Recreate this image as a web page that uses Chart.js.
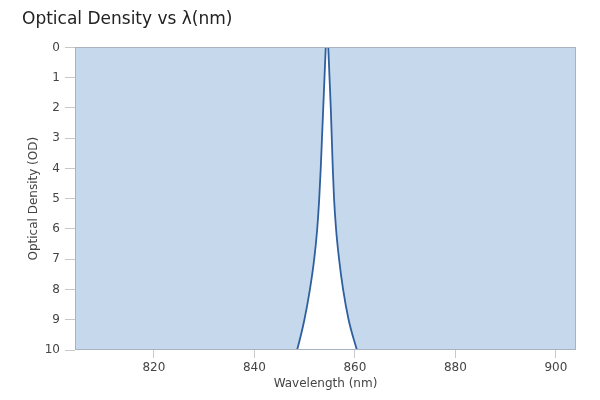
<!DOCTYPE html>
<html>
<head>
<meta charset="utf-8">
<script src="https://cdn.jsdelivr.net/npm/chart.js@4.4.1/dist/chart.umd.min.js"></script>
<style>
  html, body { margin: 0; padding: 0; background: #fff; }
  #wrap { width: 600px; height: 400px; }
</style>
</head>
<body>
<div id="wrap"><canvas id="c" width="600" height="400"></canvas></div>
<script>
// Wavelength (nm) and optical density
const wavelengths = [800, 847.6, 848.5, 849.95, 851.05, 851.9, 852.5, 852.9, 853.2, 853.45, 853.7, 853.95, 854.2, 854.45, 854.7, 854.95, 855.2, 855.4, 855.6, 855.85, 856.25, 856.85, 857.65, 858.75, 860.4, 861.3, 908];
const opticalDensity = [12, 10.5, 10, 9, 8, 7, 6, 5, 4, 3, 2, 1, 0, -0.6, 0, 1, 2, 3, 4, 5, 6, 7, 8, 9, 10, 10.5, 12];
const xTickValues = [820, 840, 860, 880, 900];
const yTickValues = [0, 1, 2, 3, 4, 5, 6, 7, 8, 9, 10];

const points = wavelengths.map((w, i) => ({ x: w, y: opticalDensity[i] }));

const frame = {
  id: 'frame',
  afterDatasetsDraw(chart) {
    const a = chart.chartArea, ctx = chart.ctx;
    ctx.save();
    ctx.strokeStyle = '#a8b3bf';
    ctx.lineWidth = 1;
    ctx.strokeRect(Math.round(a.left) + 0.5, Math.round(a.top) + 0.5, Math.round(a.right - a.left) - 1, Math.round(a.bottom - a.top) - 1);
    ctx.restore();
  }
};

new Chart(document.getElementById('c'), {
  type: 'line',
  data: {
    datasets: [{
      data: points,
      borderColor: '#2f5f9e',
      borderWidth: 1.8,
      backgroundColor: 'rgb(198,216,236)',
      fill: { value: 0 },
      pointRadius: 0,
      cubicInterpolationMode: 'monotone'
    }]
  },
  options: {
    responsive: false,
    animation: false,
    layout: { padding: { left: 22, right: 24, top: 9, bottom: 0 } },
    plugins: {
      legend: { display: false },
      tooltip: { enabled: false },
      title: {
        display: true,
        text: 'Optical Density vs λ(nm)',
        align: 'start',
        color: '#222',
        font: { family: 'DejaVu Sans', size: 17, weight: 'normal' },
        padding: { top: 0, bottom: 18 }
      }
    },
    scales: {
      x: {
        type: 'linear',
        min: 804.3,
        max: 904,
        afterBuildTicks(scale) { scale.ticks = xTickValues.map(v => ({ value: v })); },
        afterFit(scale) { scale.height = 50; },
        grid: { display: true, drawOnChartArea: false, drawTicks: true, tickLength: 8, color: '#c8c8c8' },
        border: { display: false },
        ticks: { color: '#444', font: { family: 'DejaVu Sans', size: 12 }, padding: 3, maxRotation: 0 },
        title: {
          display: true,
          text: 'Wavelength (nm)',
          color: '#444',
          font: { family: 'DejaVu Sans', size: 12 },
          padding: { top: 0, bottom: 9 }
        }
      },
      y: {
        type: 'linear',
        reverse: true,
        min: 0,
        max: 10,
        afterBuildTicks(scale) { scale.ticks = yTickValues.map(v => ({ value: v })); },
        afterFit(scale) { scale.width = 53; },
        grid: { display: true, drawOnChartArea: false, drawTicks: true, tickLength: 10, color: '#c8c8c8' },
        border: { display: false },
        ticks: { color: '#444', font: { family: 'DejaVu Sans', size: 12 }, padding: 5 },
        title: {
          display: true,
          text: 'Optical Density (OD)',
          color: '#444',
          font: { family: 'DejaVu Sans', size: 12 },
          padding: { top: 5, bottom: 0 }
        }
      }
    }
  },
  plugins: [frame]
});
</script>
</body>
</html>
